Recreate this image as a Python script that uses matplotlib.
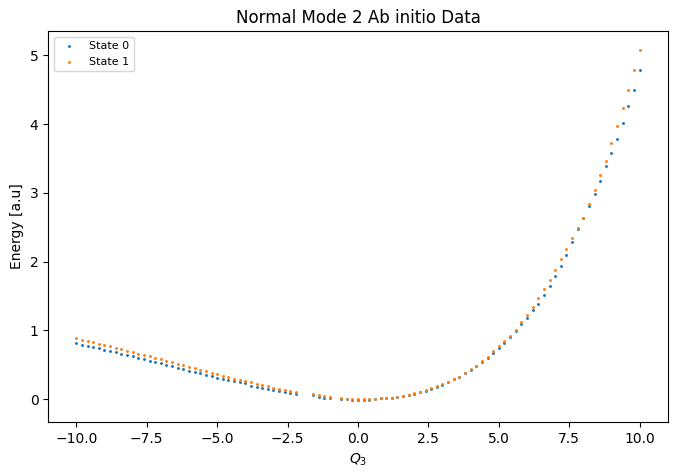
import numpy as np
import matplotlib
matplotlib.use("Agg")
import matplotlib.pyplot as plt

# displacement grid (step 0.2, a few points missing near -2 and -0.8)
q_left = [-10.0, -9.8, -9.6, -9.4, -9.2, -9.0, -8.8, -8.6, -8.4, -8.2,
          -8.0, -7.8, -7.6, -7.4, -7.2, -7.0, -6.8, -6.6, -6.4, -6.2,
          -6.0, -5.8, -5.6, -5.4, -5.2, -5.0, -4.8, -4.6, -4.4, -4.2,
          -4.0, -3.8, -3.6, -3.4, -3.2, -3.0, -2.8, -2.6, -2.4, -2.2]
q_right = [-1.6, -1.4, -1.2, -1.0, -0.6, -0.4, -0.2, 0.0, 0.2, 0.4,
           0.6, 0.8, 1.0, 1.2, 1.4, 1.6, 1.8, 2.0, 2.2, 2.4,
           2.6, 2.8, 3.0, 3.2, 3.4, 3.6, 3.8, 4.0, 4.2, 4.4,
           4.6, 4.8, 5.0, 5.2, 5.4, 5.6, 5.8, 6.0, 6.2, 6.4,
           6.6, 6.8, 7.0, 7.2, 7.4, 7.6, 7.8, 8.0, 8.2, 8.4,
           8.6, 8.8, 9.0, 9.2, 9.4, 9.6, 9.8, 10.0]
q = q_left + q_right

state0 = [0.821, 0.792, 0.778, 0.763, 0.749, 0.720, 0.705, 0.691, 0.662, 0.647,
          0.633, 0.604, 0.589, 0.560, 0.546, 0.531, 0.502, 0.488, 0.459, 0.444,
          0.415, 0.401, 0.386, 0.357, 0.343, 0.314, 0.300, 0.285, 0.271, 0.256,
          0.242, 0.198, 0.184, 0.169, 0.155, 0.140, 0.126, 0.111, 0.097, 0.082,
          0.058, 0.039, 0.020, 0.024, 0.010, 0.005, -0.010, -0.010, -0.010, -0.005,
          0.010, 0.014, 0.014, 0.020, 0.034, 0.048, 0.068, 0.080, 0.100, 0.126,
          0.155, 0.180, 0.213, 0.246, 0.290, 0.324, 0.377, 0.425, 0.478, 0.540,
          0.600, 0.676, 0.744, 0.820, 0.900, 0.985, 1.087, 1.180, 1.300, 1.390,
          1.520, 1.650, 1.790, 1.940, 2.100, 2.290, 2.470, 2.640, 2.810, 2.980,
          3.170, 3.390, 3.580, 3.790, 4.010, 4.260, 4.500, 4.780]

state1 = [0.894, 0.865, 0.850, 0.836, 0.807, 0.792, 0.778, 0.749, 0.734, 0.705,
          0.691, 0.662, 0.647, 0.633, 0.604, 0.589, 0.560, 0.546, 0.517, 0.502,
          0.473, 0.459, 0.430, 0.415, 0.386, 0.372, 0.343, 0.328, 0.300, 0.285,
          0.271, 0.256, 0.227, 0.213, 0.198, 0.169, 0.155, 0.140, 0.126, 0.111,
          0.077, 0.060, 0.048, 0.034, 0.014, 0.010, 0.010, 0.000, 0.000, 0.000,
          0.010, 0.014, 0.014, 0.020, 0.034, 0.048, 0.068, 0.085, 0.105, 0.130,
          0.158, 0.188, 0.218, 0.255, 0.295, 0.330, 0.385, 0.435, 0.490, 0.555,
          0.620, 0.700, 0.770, 0.840, 0.920, 1.000, 1.126, 1.230, 1.340, 1.470,
          1.600, 1.730, 1.880, 2.040, 2.180, 2.340, 2.490, 2.640, 2.840, 3.040,
          3.260, 3.470, 3.720, 3.970, 4.230, 4.500, 4.780, 5.070]

fig, ax = plt.subplots(figsize=(6.78, 4.73), dpi=100)
ax.scatter(q, state0, s=1.2, label="State 0")
ax.scatter(q, state1, s=1.2, label="State 1")
ax.set_ylim(-0.33, 5.35)
ax.set_title("Normal Mode 2 Ab initio Data")
ax.set_xlabel("$Q_3$")
ax.set_ylabel("Energy [a.u]")
ax.legend(fontsize=8)
fig.subplots_adjust(left=0.071, right=0.985, top=0.934, bottom=0.108)
fig.savefig("out.png", dpi=100)
